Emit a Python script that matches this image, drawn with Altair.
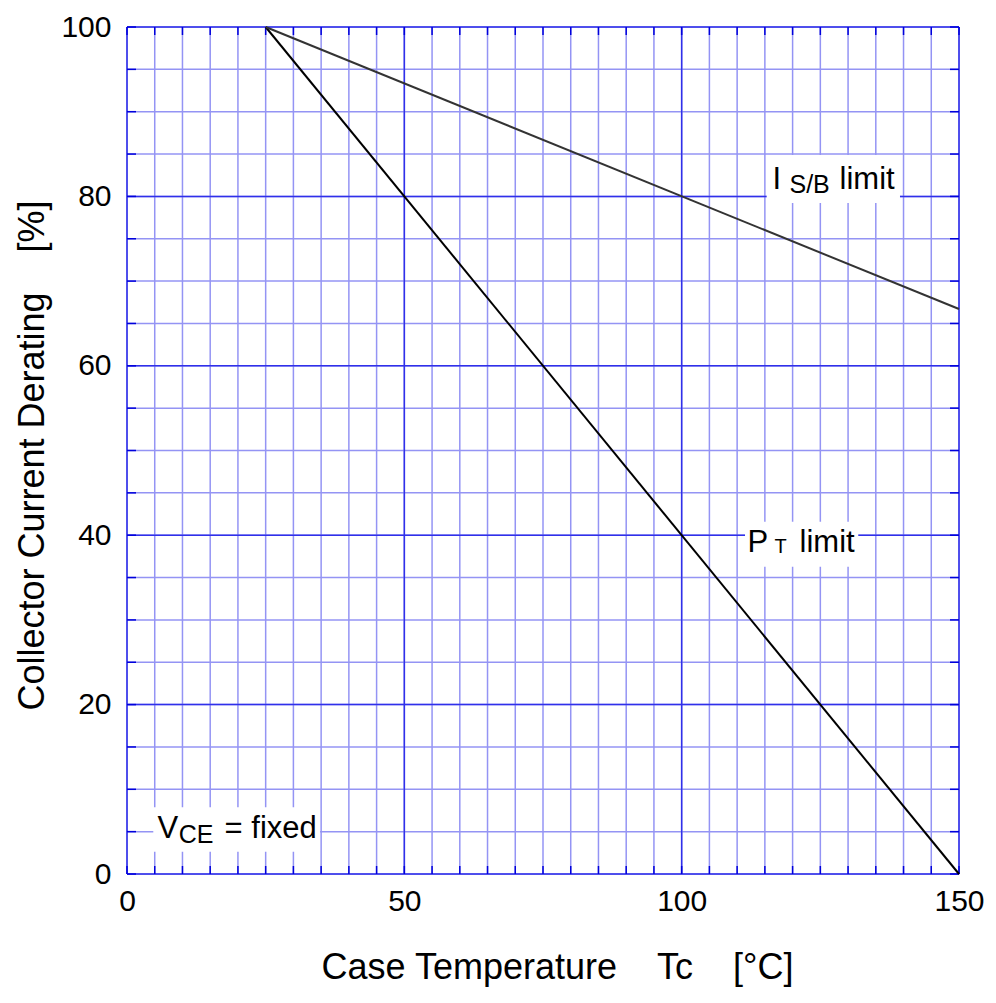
import altair as alt
import pandas as pd

# ---- data ----
temp = [25, 150]
pt_limit = [100, 0]
isb_limit = [100, 66.7]

x_ticks = [0, 50, 100, 150]
y_ticks = [0, 20, 40, 60, 80, 100]
x_minor = list(range(0, 151, 5))
y_minor = list(range(0, 101, 5))

# annotation pieces (text, x, y, font size)
ann_text = ["I", "S/B", "limit", "P", "T", "limit", "V", "CE", "= fixed"]
ann_x = [116.38, 119.44, 128.47, 111.87, 116.75, 121.26, 5.50, 9.34, 17.6]
ann_y = [80.84, 80.44, 80.84, 38.05, 37.93, 38.05, 4.21, 3.69, 4.21]
ann_size = [31, 25, 31, 31, 20, 31, 31, 25, 31]

# white label boxes
box_x = [115.33, 111.42, 4.74]
box_x2 = [139.36, 131.84, 34.8]
box_y = [79.22, 36.28, 2.63]
box_y2 = [84.89, 41.6, 7.87]

W, H = 832, 847
FONT = "Liberation Sans"
MINOR = "#9494f4"
MAJOR = "#3030ea"
FRAME = "#0000dc"
SP = "\u00a0" * 4

xs = alt.Scale(domain=[0, 150], nice=False, zero=False)
ys = alt.Scale(domain=[0, 100], nice=False, zero=False)

lines_df = pd.DataFrame({
    "t": temp * 2,
    "v": pt_limit + isb_limit,
    "s": ["PT"] * 2 + ["ISB"] * 2,
})

vminor = alt.Chart(pd.DataFrame({"v": x_minor})).mark_rule(color=MINOR, strokeWidth=1.5).encode(
    x=alt.X("v:Q", scale=xs, axis=None))
hminor = alt.Chart(pd.DataFrame({"v": y_minor})).mark_rule(color=MINOR, strokeWidth=1.5).encode(
    y=alt.Y("v:Q", scale=ys, axis=None))
vmajor = alt.Chart(pd.DataFrame({"v": x_ticks})).mark_rule(color=MAJOR, strokeWidth=1.5).encode(
    x=alt.X("v:Q", scale=xs, axis=None))
hmajor = alt.Chart(pd.DataFrame({"v": y_ticks})).mark_rule(color=MAJOR, strokeWidth=1.5).encode(
    y=alt.Y("v:Q", scale=ys, axis=None))

# short inward ticks on the frame
lticks = alt.Chart(pd.DataFrame({"v": y_minor})).mark_rule(color=FRAME, strokeWidth=1.5).encode(
    y=alt.Y("v:Q", scale=ys, axis=None), x=alt.value(0), x2=alt.value(9))
rticks = alt.Chart(pd.DataFrame({"v": y_minor})).mark_rule(color=FRAME, strokeWidth=1.5).encode(
    y=alt.Y("v:Q", scale=ys, axis=None), x=alt.value(W - 9), x2=alt.value(W))
bticks = alt.Chart(pd.DataFrame({"v": x_minor})).mark_rule(color=FRAME, strokeWidth=1.5).encode(
    x=alt.X("v:Q", scale=xs, axis=None), y=alt.value(H - 8), y2=alt.value(H))
tticks = alt.Chart(pd.DataFrame({"v": x_minor})).mark_rule(color=FRAME, strokeWidth=1.5).encode(
    x=alt.X("v:Q", scale=xs, axis=None), y=alt.value(0), y2=alt.value(8))

boxes = alt.Chart(pd.DataFrame({"x": box_x, "x2": box_x2, "y": box_y, "y2": box_y2})).mark_rect(
    color="white").encode(
    x=alt.X("x:Q", scale=xs, axis=None), x2="x2:Q",
    y=alt.Y("y:Q", scale=ys, axis=None), y2="y2:Q")

common_axis = dict(
    grid=False, ticks=False, domain=False, labelFlush=False,
    labelFont=FONT, labelFontSize=30, labelColor="#000000",
    titleFont=FONT, titleColor="#000000", titleFontWeight="normal",
)

lines = alt.Chart(lines_df).mark_line(strokeWidth=2).encode(
    x=alt.X("t:Q", scale=xs,
            axis=alt.Axis(orient="bottom", values=x_ticks,
                          title="Case Temperature" + SP + "Tc" + SP + "[°C]",
                          labelPadding=12, titleFontSize=36,
                          titleX=430, titleY=104, titleBaseline="alphabetic",
                          titleAlign="center", **common_axis)),
    y=alt.Y("v:Q", scale=ys,
            axis=alt.Axis(orient="left", values=y_ticks,
                          title="Collector Current Derating" + SP + "[%]",
                          labelPadding=16, titleFontSize=36,
                          titleX=-84, titleY=428, titleBaseline="alphabetic", titleAlign="center",
                          titleAngle=-90, **common_axis)),
    color=alt.Color("s:N", scale=alt.Scale(domain=["PT", "ISB"], range=["#000000", "#333333"]),
                    legend=None),
    detail="s:N",
)

ann = alt.Chart(pd.DataFrame({"t": ann_text, "x": ann_x, "y": ann_y, "s": ann_size})).mark_text(
    align="left", baseline="alphabetic", font=FONT, color="#000000").encode(
    x=alt.X("x:Q", scale=xs, axis=None),
    y=alt.Y("y:Q", scale=ys, axis=None),
    text="t:N",
    size=alt.Size("s:Q", scale=None, legend=None),
)

chart = alt.layer(
    vminor, hminor, vmajor, hmajor, boxes, lticks, rticks, bticks, tticks, lines, ann
).resolve_axis(x="independent", y="independent").properties(
    width=W, height=H,
    autosize=alt.AutoSizeParams(type="none"),
    padding={"left": 119, "top": 19, "right": 29, "bottom": 124},
).configure_view(
    stroke=FRAME, strokeWidth=2.5
).configure(background="white")

chart.save("out.html", embed_options={"renderer": "svg", "actions": False})
